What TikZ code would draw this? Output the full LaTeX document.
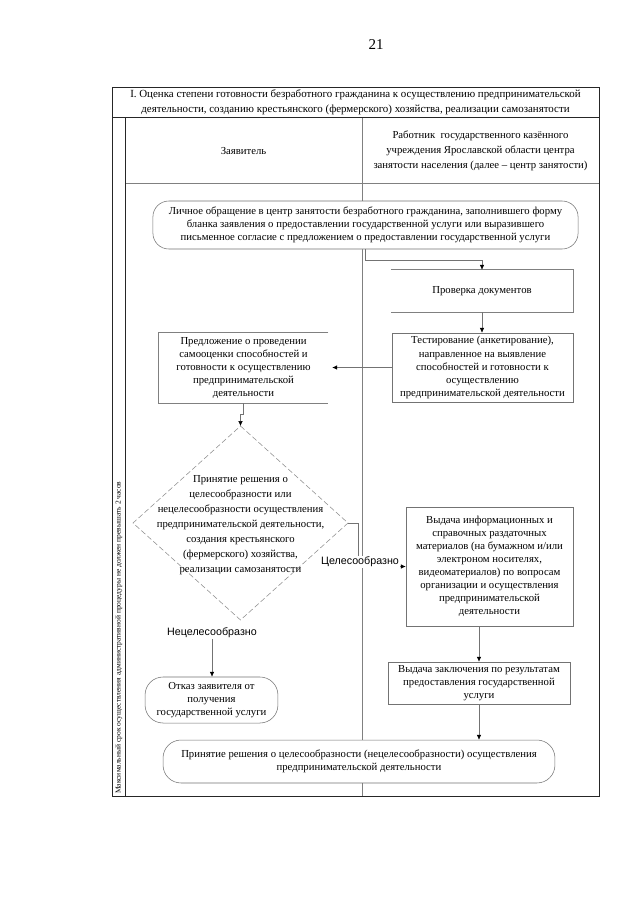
\documentclass[tikz,border=0pt]{standalone}
\usepackage{fontspec}
\setmainfont{Liberation Serif}
\newfontfamily\lsans{Liberation Sans}
\usetikzlibrary{arrows.meta}
\tikzset{
  gl/.style={draw=black!50, line width=0.5pt},
  framel/.style={draw=black!85, line width=0.7pt},
  boxtext/.style={align=center, inner sep=0pt, font=\fontsize{10}{12.2}\selectfont},
  box/.style={boxtext, draw=black!55, line width=0.5pt, fill=white},
  openbox/.style={boxtext, fill=white},
  rbox/.style={box, rounded corners=5.2mm},
  lbl/.style={font=\lsans\fontsize{10}{12}\selectfont, fill=white, inner sep=1pt},
  conn/.style={draw=black!55, line width=0.5pt, -{Latex[length=1.6mm,width=1.45mm,black]}},
}
\begin{document}
\begin{tikzpicture}[x=0.328125mm, y=-0.328125mm]
\useasboundingbox[fill=white] (0,0) rectangle (640,905);

% page number
\node[font=\fontsize{14}{16}\selectfont] (pg) at (376,45) {21};

% table grid
\draw[gl] (362,117) -- (362,796);
\draw[gl] (125,183) -- (599,183);
\draw[framel] (112,87) rectangle (599,796);
\draw[framel] (112,117) -- (599,117);
\draw[framel] (125,117) -- (125,796);

% title
\node[align=center, font=\fontsize{10.2}{14}\selectfont] (title) at (355.5,102)
  {I. Оценка степени готовности безработного гражданина к осуществлению предпринимательской\\
   деятельности, созданию крестьянского (фермерского) хозяйства, реализации самозанятости};

% sidebar
\node[rotate=90, anchor=west, inner sep=0pt, font=\fontsize{7}{9}\selectfont] (side) at (118.8,794)
  {Максимальный срок осуществления административной процедуры не должен превышать 2 часов};

% headers
\node[font=\fontsize{10}{14}\selectfont] (hz) at (243.5,151) {Заявитель};
\node[align=center, font=\fontsize{10}{14}\selectfont] (hr) at (480.5,151)
  {Работник \ государственного казённого\\
   учреждения Ярославской области центра\\
   занятости населения (далее – центр занятости)};

% node 1
\node[rbox, minimum width=139.5mm, minimum height=15.75mm] (n1) at (365.5,225)
  {Личное обращение в центр занятости безработного гражданина, заполнившего форму\\
   бланка заявления о предоставлении государственной услуги или выразившего\\
   письменное согласие с предложением о предоставлении государственной услуги};

% check documents (left side open)
\node[openbox, minimum width=59.7mm, minimum height=13.8mm] (chk) at (482,291) {Проверка документов};
\draw[gl] (chk.north west) -- (chk.north east) -- (chk.south east) -- (chk.south west);

% testing
\node[box, minimum width=59.4mm, minimum height=22.6mm] (tst) at (482.5,367.5)
  {Тестирование (анкетирование),\\
   направленное на выявление\\
   способностей и готовности к\\
   осуществлению\\
   предпринимательской деятельности};

% proposal (right side open)
\node[openbox, minimum width=55.5mm, minimum height=23mm] (prp) at (243.5,368)
  {Предложение о проведении\\
   самооценки способностей и\\
   готовности к осуществлению\\
   предпринимательской\\
   деятельности};
\draw[gl] (prp.north east) -- (prp.north west) -- (prp.south west) -- (prp.south east);

% decision diamond
\coordinate (dT) at (240.5,426);
\coordinate (dR) at (348,523);
\coordinate (dB) at (240.5,620);
\coordinate (dL) at (133,523);
\draw[draw=black!45, line width=0.5pt, dash pattern=on 5pt off 2.5pt, fill=white] (dT) -- (dR) -- (dB) -- (dL) -- cycle;
\node[boxtext, font=\fontsize{10}{14}\selectfont] (dtx) at (240.5,525)
  {Принятие решения о\\
   целесообразности или\\
   нецелесообразности осуществления\\
   предпринимательской деятельности,\\
   создания крестьянского\\
   (фермерского) хозяйства,\\
   реализации самозанятости};

% info materials
\node[box, minimum width=54.8mm, minimum height=39mm] (inf) at (489.5,566.5)
  {Выдача информационных и\\
   справочных раздаточных\\
   материалов (на бумажном и/или\\
   электроном носителях,\\
   видеоматериалов) по вопросам\\
   организации и осуществления\\
   предпринимательской\\
   деятельности};

% conclusion
\node[box, minimum width=59.7mm, minimum height=13.8mm] (cnc) at (479,683)
  {Выдача заключения по результатам\\
   предоставления государственной\\
   услуги};

% refusal
\node[rbox, rounded corners=5.9mm, minimum width=43.6mm, minimum height=15.1mm] (otk) at (211.5,700)
  {Отказ заявителя от\\
   получения\\
   государственной услуги};

% final decision
\node[rbox, rounded corners=5.9mm, minimum width=128.6mm, minimum height=14.1mm] (fin) at (359,761.5)
  {Принятие решения о целесообразности (нецелесообразности) осуществления\\
   предпринимательской деятельности};

% connectors
\draw[conn] (n1.south) -- ++(0,11) -| (chk.north);
\draw[conn] (chk.south) -- (chk.south |- tst.north);
\draw[conn, shorten >=1.3mm] (tst.west) -- (tst.west -| prp.east);
\draw[conn] (prp.south) -- ++(0,11) -| (dT);
\draw[conn] (dR) -- ++(10,0) |- (inf.west);
\node[lbl] (cel) at (360,562) {Целесообразно};
\node[lbl] (nec) at (212,633) {Нецелесообразно};
\draw[conn] (nec.south) -- (nec.south |- otk.north);
\draw[conn] (cnc.north |- inf.south) -- (cnc.north);
\draw[conn] (cnc.south) -- (cnc.south |- fin.north);
\end{tikzpicture}
\end{document}
